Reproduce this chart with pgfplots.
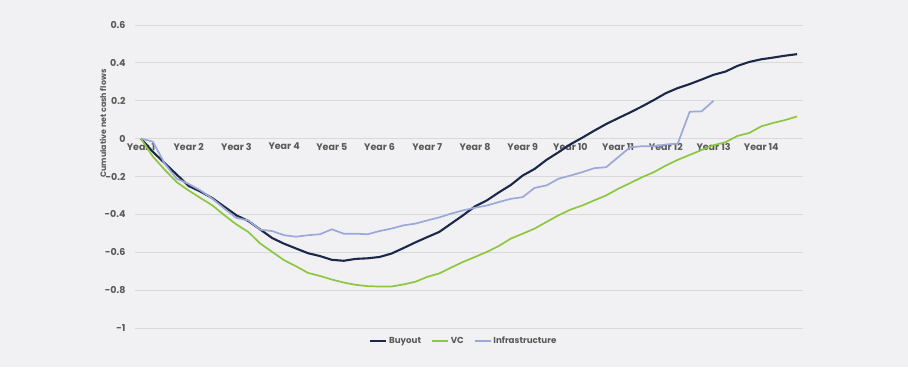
\documentclass[border=0pt]{standalone}
\usepackage{pgfplots}
\pgfplotsset{compat=1.18}
\usepackage{fontspec}
\setmainfont{Poppins}
\definecolor{bg}{HTML}{F1F1F3}
\definecolor{buyout}{HTML}{1B2847}
\definecolor{vc}{HTML}{8DC63F}
\definecolor{infra}{HTML}{9CA8DA}
\definecolor{txt}{HTML}{595959}
\definecolor{gridc}{HTML}{D9D9D9}
\begin{document}
\begin{tikzpicture}[x=1pt,y=1pt]
\fill[bg] (0,0) rectangle (908,367);
\begin{axis}[
  at={(135pt,39pt)}, anchor=south west,
  scale only axis, width=668pt, height=303pt,
  xmin=-0.5, xmax=55.5, ymin=-1, ymax=0.6,
  axis x line*=middle, axis y line*=left,
  axis line style={draw=none},
  major tick length=0pt,
  xtick={0,4,...,52},
  xticklabels={Year 1,Year 2,Year 3,Year 4,Year 5,Year 6,Year 7,Year 8,Year 9,Year 10,Year 11,Year 12,Year 13,Year 14},
  ytick={-1,-0.8,...,0.61},
  ymajorgrids, grid style={gridc, line width=0.8pt},
  /pgf/number format/assume math mode=true,
  yticklabel={\pgfmathprintnumber[fixed,precision=1]{\tick}},
  xticklabel style={font=\bfseries\fontsize{9.5}{11}\selectfont, text=txt, yshift=-1pt},
  yticklabel style={font=\bfseries\fontsize{9.5}{11}\selectfont, text=txt, xshift=-6pt},
  ylabel={Cumulative net cash flows},
  every axis y label/.style={at={(axis description cs:-0.048,0.675)}, rotate=90, anchor=center, font=\bfseries\fontsize{7.9}{9}\selectfont, text=txt},
  legend columns=-1,
  legend style={at={(axis description cs:0.492,-0.043)}, anchor=center, draw=none, fill=none, font=\bfseries\fontsize{8.7}{10}\selectfont, text=txt, /tikz/every even column/.append style={column sep=8pt}},
  legend image code/.code={\draw[#1] (0pt,0pt) -- (16pt,0pt);},
]
\addplot[buyout, line width=2.1pt] coordinates {
(0,0) (1,-0.07) (2,-0.13) (3,-0.19) (4,-0.25) (5,-0.28) (6,-0.315) (7,-0.36) (8,-0.405) (9,-0.435)
(10,-0.48) (11,-0.525) (12,-0.555) (13,-0.58) (14,-0.605) (15,-0.62) (16,-0.64) (17,-0.645) (18,-0.635) (19,-0.632)
(20,-0.625) (21,-0.607) (22,-0.578) (23,-0.548) (24,-0.52) (25,-0.493) (26,-0.449) (27,-0.405) (28,-0.358) (29,-0.326)
(30,-0.284) (31,-0.245) (32,-0.195) (33,-0.16) (34,-0.112) (35,-0.072) (36,-0.03) (37,0.005) (38,0.042) (39,0.077)
(40,0.108) (41,0.138) (42,0.17) (43,0.204) (44,0.24) (45,0.267) (46,0.288) (47,0.312) (48,0.337) (49,0.354)
(50,0.384) (51,0.405) (52,0.419) (53,0.428) (54,0.438) (55,0.446)
};
\addlegendentry{Buyout}
\addplot[vc, line width=1.7pt] coordinates {
(0,0) (1,-0.095) (2,-0.165) (3,-0.23) (4,-0.274) (5,-0.314) (6,-0.353) (7,-0.405) (8,-0.453) (9,-0.493)
(10,-0.554) (11,-0.598) (12,-0.642) (13,-0.674) (14,-0.709) (15,-0.725) (16,-0.744) (17,-0.76) (18,-0.772) (19,-0.779)
(20,-0.781) (21,-0.781) (22,-0.77) (23,-0.756) (24,-0.73) (25,-0.712) (26,-0.681) (27,-0.651) (28,-0.625) (29,-0.598)
(30,-0.567) (31,-0.528) (32,-0.502) (33,-0.475) (34,-0.44) (35,-0.405) (36,-0.375) (37,-0.353) (38,-0.326) (39,-0.3)
(40,-0.265) (41,-0.235) (42,-0.204) (43,-0.177) (44,-0.142) (45,-0.112) (46,-0.086) (47,-0.06) (48,-0.035) (49,-0.019)
(50,0.014) (51,0.03) (52,0.065) (53,0.083) (54,0.098) (55,0.117)
};
\addlegendentry{VC}
\addplot[infra, line width=1.7pt] coordinates {
(0,0) (1,-0.016) (2,-0.133) (3,-0.212) (4,-0.239) (5,-0.274) (6,-0.318) (7,-0.37) (8,-0.419) (9,-0.432)
(10,-0.481) (11,-0.488) (12,-0.51) (13,-0.518) (14,-0.51) (15,-0.505) (16,-0.479) (17,-0.502) (18,-0.502) (19,-0.505)
(20,-0.488) (21,-0.475) (22,-0.458) (23,-0.449) (24,-0.432) (25,-0.416) (26,-0.396) (27,-0.379) (28,-0.365) (29,-0.353)
(30,-0.335) (31,-0.318) (32,-0.309) (33,-0.26) (34,-0.247) (35,-0.212) (36,-0.195) (37,-0.177) (38,-0.156) (39,-0.151)
(40,-0.098) (41,-0.046) (42,-0.04) (43,-0.04) (44,-0.031) (45,-0.026) (46,0.142) (47,0.144) (48,0.2)
};
\addlegendentry{Infrastructure}
\end{axis}
\end{tikzpicture}
\end{document}
